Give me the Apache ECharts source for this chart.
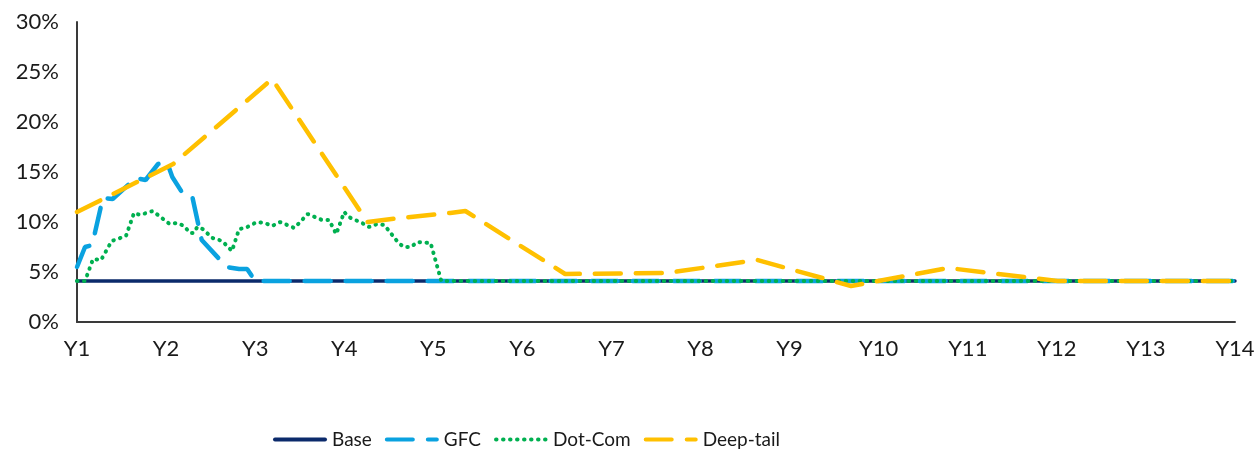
<!DOCTYPE html>
<html>
<head>
<meta charset="utf-8">
<script src="https://cdn.jsdelivr.net/npm/echarts@6/dist/echarts.min.js"></script>
<style>
html,body{margin:0;padding:0;background:#fff;}
#chart{width:1260px;height:452px;}
</style>
</head>
<body>
<div id="chart"></div>
<script type="text/javascript">
// x = year position (Y1 = 1), y = percent
var xLabels = ['Y1','Y2','Y3','Y4','Y5','Y6','Y7','Y8','Y9','Y10','Y11','Y12','Y13','Y14'];
var seriesNames = ['Base','GFC','Dot-Com','Deep-tail'];

var baseData = [[1,4.1],[14,4.1]];

var gfcData = [
    [1.00,5.5],[1.09,7.5],[1.17,7.7],[1.29,12.4],[1.40,12.3],[1.66,14.4],[1.77,14.2],
    [1.91,15.8],[2.01,16.0],[2.07,14.5],[2.17,13.1],[2.29,12.7],[2.40,8.2],[2.68,5.5],
    [2.82,5.3],[2.91,5.3],[3.00,4.1],[14,4.1]
];

var dotComData = [
    [1.00,4.1],[1.09,4.1],[1.18,6.3],[1.27,6.2],[1.39,8.1],[1.55,8.6],[1.64,10.9],
    [1.71,10.7],[1.85,11.1],[2.04,9.8],[2.13,9.9],[2.20,9.6],[2.27,8.9],[2.31,8.9],
    [2.35,9.5],[2.41,9.3],[2.52,8.4],[2.63,8.1],[2.74,7.1],[2.82,9.3],[2.89,9.4],
    [3.02,10.0],[3.11,9.9],[3.19,9.6],[3.28,10.0],[3.36,9.7],[3.44,9.4],[3.59,10.8],
    [3.67,10.5],[3.75,10.2],[3.83,10.2],[3.91,8.8],[4.00,11.0],[4.05,10.5],[4.20,9.9],
    [4.28,9.5],[4.37,9.8],[4.45,9.7],[4.61,7.9],[4.67,7.5],[4.75,7.5],[4.82,8.0],
    [4.97,7.9],[5.09,4.1],[14,4.1]
];

var deepTailData = [
    [1.00,11.0],[2.08,15.8],[3.19,24.3],[4.26,10.0],[4.63,10.4],[5.19,10.9],[5.36,11.1],
    [6.48,4.8],[7.62,4.9],[8.64,6.2],[9.69,3.6],[10.78,5.4],[12.01,4.1],[14,4.1]
];

var myChart = echarts.init(document.getElementById('chart'));
var fontFamily = 'Lato, "Liberation Sans", sans-serif';

function makeLine(name, data, color, width, type){
    return {
        name: name,
        type: 'line',
        data: data,
        symbol: 'none',
        animation: false,
        lineStyle: {
            color: color,
            width: width,
            type: type,
            cap: 'round'
        },
        itemStyle: {color: color}
    };
}

var option = {
    animation: false,
    grid: {left: 77, right: 25, top: 22, bottom: 130},
    legend: {
        top: 425,
        left: 268,
        itemWidth: 50,
        itemHeight: 22,
        itemGap: 13,
        itemStyle: {opacity: 0},
        lineStyle: {width: 4},
        textStyle: {fontFamily: fontFamily, fontSize: 19, color: '#1a1a1a', padding: [0,0,0,2]},
        data: seriesNames
    },
    xAxis: {
        type: 'value',
        min: 1,
        max: 14,
        interval: 1,
        axisLine: {show: true, lineStyle: {color: '#3a3a3a', width: 2}},
        axisTick: {show: false},
        splitLine: {show: false},
        axisLabel: {
            margin: 16,
            fontFamily: fontFamily,
            fontSize: 22,
            color: '#1a1a1a',
            formatter: function(v){ return xLabels[Math.round(v) - 1]; }
        }
    },
    yAxis: {
        type: 'value',
        min: 0,
        max: 30,
        interval: 5,
        axisLine: {show: true, lineStyle: {color: '#3a3a3a', width: 2}},
        axisTick: {show: false},
        splitLine: {show: false},
        axisLabel: {
            margin: 18,
            fontFamily: fontFamily,
            fontSize: 22,
            color: '#1a1a1a',
            formatter: '{value}%'
        }
    },
    series: [
        makeLine(seriesNames[0], baseData, '#0b2a6b', 3.5, 'solid'),
        makeLine(seriesNames[1], gfcData, '#0aa2e0', 4.5, [26,15]),
        makeLine(seriesNames[2], dotComData, '#00b050', 4, [0.5,6.5]),
        makeLine(seriesNames[3], deepTailData, '#ffc000', 4.5, [26,15])
    ]
};
myChart.setOption(option);
</script>
</body>
</html>
